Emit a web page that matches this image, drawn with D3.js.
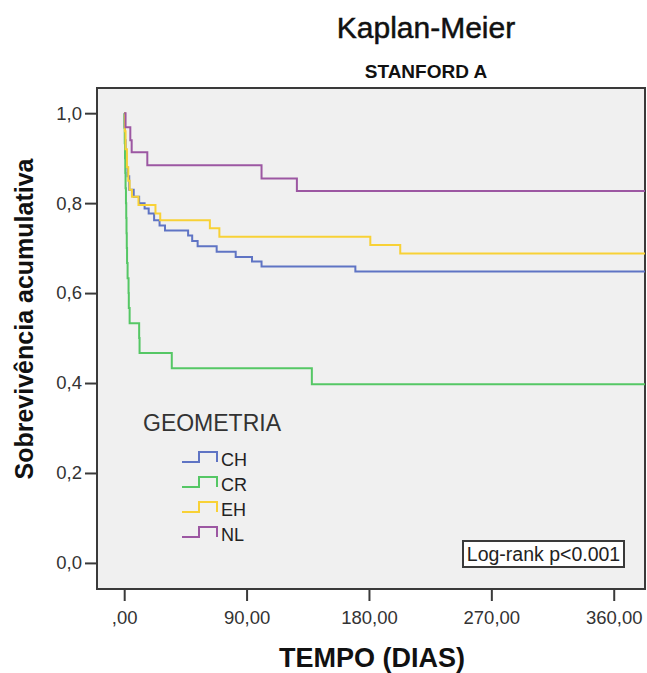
<!DOCTYPE html>
<html>
<head>
<meta charset="utf-8">
<script src="https://cdn.jsdelivr.net/npm/d3@7"></script>
<style>
  body { margin: 0; background: #fff; }
  text { font-family: "Liberation Sans", Arial, sans-serif; }
</style>
</head>
<body>
<svg id="chart" width="647" height="673"></svg>
<script>
// survival steps (time in days, cumulative survival)
var groups = ["CH", "CR", "EH", "NL"]
var colors = ["#5f74c4", "#55c765", "#f8d136", "#9c57a2"]

var timesCH = [0, 0.3, 0.6, 1, 1.5, 2.5, 3.7, 7, 11, 15, 18, 22, 26, 30, 47, 50, 54, 68, 82, 94, 101, 170]
var survCH  = [1, 0.97, 0.94, 0.91, 0.88, 0.86, 0.83, 0.814, 0.80, 0.788, 0.777, 0.762, 0.75, 0.739, 0.728, 0.716, 0.704, 0.692, 0.68, 0.67, 0.659, 0.648]

var timesCR = [0, 0.2, 0.4, 0.6, 0.8, 1.0, 1.3, 1.5, 1.7, 1.9, 2.1, 2.5, 3.2, 3.4, 4, 11, 11.3, 35, 138]
var survCR  = [1, 0.967, 0.933, 0.9, 0.867, 0.833, 0.8, 0.767, 0.733, 0.7, 0.667, 0.633, 0.6, 0.567, 0.533, 0.5, 0.467, 0.433, 0.397]

var timesEH = [0, 0.5, 1, 2, 3, 4, 5.7, 10.5, 23, 26.5, 63, 70, 181, 203]
var survEH  = [1, 0.96, 0.92, 0.88, 0.85, 0.83, 0.814, 0.796, 0.777, 0.762, 0.744, 0.725, 0.707, 0.688]

var timesNL = [0, 1, 4.5, 5.5, 17, 101, 127]
var survNL  = [1, 0.969, 0.94, 0.913, 0.884, 0.855, 0.827]

var xTicks = [0, 90, 180, 270, 360]
var xTickLabels = [",00", "90,00", "180,00", "270,00", "360,00"]
var yTicks = [0, 0.2, 0.4, 0.6, 0.8, 1.0]
var tMax = 383

var series = [
  { name: "CH", t: timesCH, s: survCH },
  { name: "CR", t: timesCR, s: survCR },
  { name: "EH", t: timesEH, s: survEH },
  { name: "NL", t: timesNL, s: survNL }
]

var svg = d3.select("#chart")
var plotLeft = 97, plotRight = 645, plotTop = 88, plotBottom = 589

var x = d3.scaleLinear().domain([-20, tMax]).range([plotLeft, plotRight])
var y = d3.scaleLinear().domain([-0.058, 1.056]).range([plotBottom, plotTop])
var color = d3.scaleOrdinal().domain(groups).range(colors)

svg.append("rect").attr("width", 647).attr("height", 673).attr("fill", "#fff")

// titles
svg.append("text").attr("x", 426).attr("y", 38).attr("text-anchor", "middle")
  .attr("font-size", 30).attr("fill", "#111").attr("stroke", "#111").attr("stroke-width", 0.5)
  .text("Kaplan-Meier")
svg.append("text").attr("x", 426).attr("y", 78).attr("text-anchor", "middle")
  .attr("font-size", 19).attr("font-weight", "bold").attr("fill", "#111").text("STANFORD A")

// plot area
svg.append("rect")
  .attr("x", plotLeft).attr("y", plotTop)
  .attr("width", plotRight - plotLeft).attr("height", plotBottom - plotTop)
  .attr("fill", "#f0f0f0").attr("stroke", "#3a3a3a").attr("stroke-width", 2)

// axes
var yAxis = svg.append("g").attr("transform", "translate(" + plotLeft + ",0)")
  .call(d3.axisLeft(y).tickValues(yTicks).tickSize(12).tickPadding(3)
    .tickFormat(d => d3.format(".1f")(d).replace(".", ",")))
var xAxis = svg.append("g").attr("transform", "translate(0," + plotBottom + ")")
  .call(d3.axisBottom(x).tickValues(xTicks).tickSize(12).tickPadding(10)
    .tickFormat((d, i) => xTickLabels[i]))
;[yAxis, xAxis].forEach(function (a) {
  a.select(".domain").remove()
  a.selectAll(".tick line").attr("stroke", "#3a3a3a").attr("stroke-width", 2)
  a.selectAll(".tick text").attr("font-size", 18.5).attr("fill", "#333")
    .attr("font-family", "Liberation Sans, Arial, sans-serif")
})

svg.append("text").attr("x", 372).attr("y", 667).attr("text-anchor", "middle")
  .attr("font-size", 27).attr("font-weight", "bold").attr("fill", "#111").text("TEMPO (DIAS)")
svg.append("text").attr("transform", "translate(33,319) rotate(-90)").attr("text-anchor", "middle")
  .attr("font-size", 25).attr("font-weight", "bold").attr("fill", "#111").text("Sobrevivência acumulativa")

// curves
var line = d3.line().curve(d3.curveStepAfter).x(d => x(d[0])).y(d => y(d[1]))
svg.append("g").selectAll("path")
  .data(series)
  .enter()
  .append("path")
  .attr("d", function (d) {
    var pts = d.t.map((t, i) => [t, d.s[i]])
    pts.push([tMax, d.s[d.s.length - 1]])
    return line(pts)
  })
  .attr("fill", "none")
  .attr("stroke", d => color(d.name))
  .attr("stroke-width", 2)

// legend
svg.append("text").attr("x", 143).attr("y", 431)
  .attr("font-size", 23).attr("fill", "#333").text("GEOMETRIA")
var leg = svg.append("g").selectAll("g")
  .data(groups)
  .enter()
  .append("g")
  .attr("transform", (d, i) => "translate(182," + (462 + i * 25) + ")")
leg.append("path")
  .attr("d", "M0,0H17V-10H35V0")
  .attr("fill", "none")
  .attr("stroke", d => color(d))
  .attr("stroke-width", 2)
leg.append("text").attr("x", 39).attr("y", 4)
  .attr("font-size", 18).attr("fill", "#222").text(d => d)

// log-rank box
svg.append("rect").attr("x", 463).attr("y", 541).attr("width", 161).attr("height", 26)
  .attr("fill", "#fff").attr("stroke", "#3a3a3a").attr("stroke-width", 2)
svg.append("text").attr("x", 543.5).attr("y", 561).attr("text-anchor", "middle")
  .attr("font-size", 19.5).attr("fill", "#222").text("Log-rank p<0.001")
</script>
</body>
</html>
